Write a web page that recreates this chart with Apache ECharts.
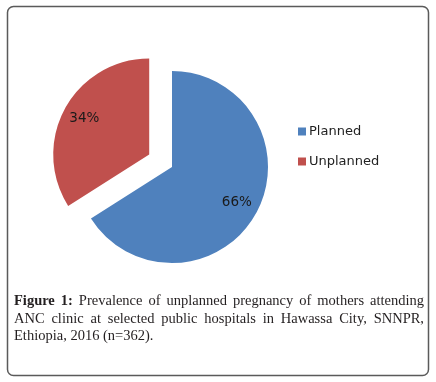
<!DOCTYPE html>
<html>
<head>
<meta charset="utf-8">
<script src="https://cdn.jsdelivr.net/npm/echarts@6/dist/echarts.min.js"></script>
<style>
    body { margin: 0; background: #ffffff; }
    .wrap { position: relative; width: 436px; height: 382px; }
    #chart { position: absolute; left: 0; top: 0; width: 436px; height: 382px; }
    .caption {
        position: absolute;
        left: 14px;
        width: 410px;
        top: 292px;
        font-family: 'Liberation Serif', serif;
        font-size: 14.5px;
        line-height: 17.5px;
        color: #231f20;
    }
    .caption .line { text-align: justify; text-align-last: justify; white-space: nowrap; }
    .caption .line.last { text-align-last: left; }
</style>
</head>
<body>
<div class="wrap">
    <div id="chart"></div>
    <div class="caption">
        <div class="line"><b>Figure 1:</b> Prevalence of unplanned pregnancy of mothers attending</div>
        <div class="line">ANC clinic at selected public hospitals in Hawassa City, SNNPR,</div>
        <div class="line last">Ethiopia, 2016 (n=362).</div>
    </div>
</div>
<script>
    const categories = ['Planned', 'Unplanned']
    const percents = [66, 34]
    const colors = ['#4f81bd', '#c0504d']

    const pieData = categories.map((name, i) => ({
        name: name,
        value: percents[i],
        selected: name === 'Unplanned',
        itemStyle: { color: colors[i] }
    }))
    const labelData = categories.map((name, i) => ({
        name: name,
        value: percents[i],
        selected: name === 'Unplanned'
    }))

    const mychart = echarts.init(document.getElementById('chart'))
    mychart.setOption({
        animation: false,
        graphic: [{
            type: 'rect',
            shape: { x: 7.5, y: 6.5, width: 421, height: 369, r: 6 },
            style: { fill: 'none', stroke: '#5a5a5a', lineWidth: 1.5 },
            silent: true
        }],
        legend: {
            orient: 'vertical',
            left: 293,
            top: 120,
            itemWidth: 8,
            itemHeight: 8,
            itemGap: 17,
            icon: 'rect',
            data: categories,
            selectedMode: false,
            textStyle: { fontFamily: 'DejaVu Sans', fontSize: 13, color: '#222222', padding: [0, 0, 0, -2] }
        },
        series: [
            {
                type: 'pie',
                center: [172, 167],
                radius: [0, 96],
                startAngle: 90,
                clockwise: true,
                selectedMode: 'single',
                selectedOffset: 26,
                silent: true,
                label: { show: false },
                labelLine: { show: false },
                emphasis: { disabled: true },
                data: pieData
            },
            {
                type: 'pie',
                center: [172, 167],
                radius: [46, 96],
                startAngle: 90,
                clockwise: true,
                selectedMode: 'single',
                selectedOffset: 26,
                silent: true,
                itemStyle: { color: 'rgba(0,0,0,0)' },
                label: {
                    show: true,
                    position: 'inside',
                    formatter: '{c}%',
                    fontFamily: 'DejaVu Sans',
                    fontSize: 13.5,
                    color: '#1a1a1a'
                },
                labelLine: { show: false },
                emphasis: { disabled: true },
                data: labelData
            }
        ]
    })
</script>
</body>
</html>
